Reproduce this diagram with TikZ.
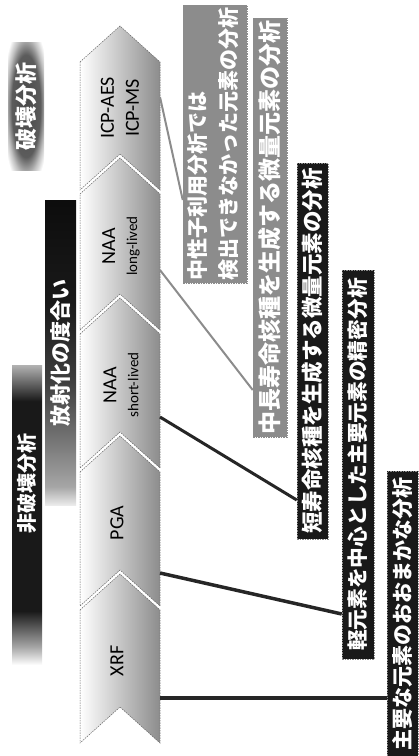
\documentclass[tikz,border=0pt]{standalone}
\usepackage{fontspec}
\setmainfont{Carlito}
\newfontfamily\jp{Noto Sans CJK JP}
\usepackage{graphicx}
\usetikzlibrary{calc}
\newcommand\chevsubfont{\fontsize{15}{18}\selectfont}

\pgfdeclareverticalshading{hihakai}{100bp}{color(0bp)=(white); color(25bp)=(white); color(28bp)=(black!35); color(34bp)=(black!90); color(69bp)=(black!90); color(72.5bp)=(black!55); color(75bp)=(black!30); color(100bp)=(black!30)}
\pgfdeclareverticalshading{hosha}{100bp}{color(0bp)=(black!8); color(25bp)=(black!8); color(28bp)=(black!35); color(36bp)=(black!55); color(45bp)=(black!75); color(58bp)=(black!90); color(75bp)=(black!95); color(100bp)=(black!95)}
\pgfdeclareradialshading{hakai}{\pgfpoint{0bp}{0bp}}{color(0bp)=(black!72); color(20bp)=(black!64); color(27bp)=(black!25); color(33bp)=(white); color(50bp)=(white)}

\begin{document}
\begin{tikzpicture}[x=1pt,y=-1pt,
  chev/.style={left color=white, middle color=white, right color=black!45, draw=black!60, line width=0.5pt, dash pattern=on 1.5pt off 1pt},
  chevtext/.style={font=\fontsize{20}{25}\selectfont, align=center, rotate=90, inner sep=0pt},
  lab/.style={draw=black!45, line width=0.5pt, dash pattern=on 1.5pt off 1pt, inner sep=0pt, text=white},
  darklab/.style={lab, fill=black!90},
  graylab/.style={lab, fill=black!45},
  sidelab/.style={inner sep=0pt, text=white},
  darkline/.style={line width=3.5pt, draw=black!85},
  grayline/.style={line width=2pt, draw=black!45},
]
\path[use as bounding box] (0,0) rectangle (419,756);

% chevrons
\path[chev] (80,610) -- (120,574) -- (160,610) -- (160,743) -- (120,707) -- (80,743) -- cycle;
\path[chev] (80,472) -- (120,436) -- (160,472) -- (160,606) -- (120,570) -- (80,606) -- cycle;
\path[chev] (80,334) -- (120,298) -- (160,334) -- (160,468) -- (120,432) -- (80,468) -- cycle;
\path[chev] (80,194) -- (120,158) -- (160,194) -- (160,330) -- (120,294) -- (80,330) -- cycle;
\path[chev] (80,62) -- (120,26) -- (160,62) -- (160,190) -- (120,154) -- (80,190) -- cycle;

\node[chevtext] (xrf) at (117,661) {XRF};
\node[chevtext] (pga) at (117,523) {PGA};
\node[chevtext] (naas) at (121,385) {NAA\\[-3pt]{\chevsubfont short-lived}};
\node[chevtext] (naal) at (121,246) {NAA\\[-3pt]{\chevsubfont long-lived}};
\node[chevtext] (icp) at (120,108) {ICP-AES\\ICP-MS};

% left labels
\node[sidelab, shading=hakai, minimum width=36pt, minimum height=128pt] (hakai) at (26,106) {\rotatebox{90}{\jp\bfseries\fontsize{22}{22}\selectfont 破壊分析}};
\node[sidelab, shading=hosha, minimum width=31pt, minimum height=305pt] (hosha) at (60.5,352.5) {\rotatebox{90}{\jp\bfseries\fontsize{21}{21}\selectfont 放射化の度合い}};
\node[sidelab, shading=hihakai, minimum width=30pt, minimum height=300pt] (hihakai) at (27,515) {};
\node[sidelab] (hihakaitext) at (27,483) {\rotatebox{90}{\jp\bfseries\fontsize{20}{20}\selectfont 非破壊分析}};

% right labels
\node[graylab, minimum width=64pt, minimum height=278pt] (l1) at (215,144) {\rotatebox{90}{\jp\bfseries\fontsize{21}{31}\selectfont\begin{tabular}{@{}l@{}}中性子利用分析では\\検出できなかった元素の分析\end{tabular}}};
\node[graylab, minimum width=34pt, minimum height=419pt] (l2) at (270,227.5) {\rotatebox{90}{\jp\bfseries\fontsize{23}{23}\selectfont 中長寿命核種を生成する微量元素の分析}};
\node[darklab, minimum width=31pt, minimum height=376pt] (l3) at (312.5,351) {\rotatebox{90}{\jp\bfseries\fontsize{21.5}{21.5}\selectfont 短寿命核種を生成する微量元素の分析}};
\node[darklab, minimum width=32pt, minimum height=389pt] (l4) at (358,464.5) {\rotatebox{90}{\jp\bfseries\fontsize{20.7}{20.7}\selectfont 軽元素を中心とした主要元素の精密分析}};
\node[darklab, minimum width=31pt, minimum height=285pt] (l5) at (402.5,613.5) {\rotatebox{90}{\jp\bfseries\fontsize{21}{21}\selectfont 主要な元素のおおまかな分析}};

% connector start points on chevron right edges
\coordinate (cx) at (160,698);
\coordinate (cp) at (160,573);
\coordinate (cns) at (160,417);
\coordinate (cnl) at (160,270);
\coordinate (ci) at (160,97);

\draw[darkline] (cx) -- (l5.west |- cx);
\draw[darkline] (cp) -- (l4.west |- 0,614);
\draw[darkline, line width=3pt] (cns) -- (l3.west |- 0,500);
\draw[grayline] (cnl) -- (l2.west |- 0,390);
\draw[grayline] (ci) -- (l1.west |- 0,200);
\end{tikzpicture}
\end{document}
